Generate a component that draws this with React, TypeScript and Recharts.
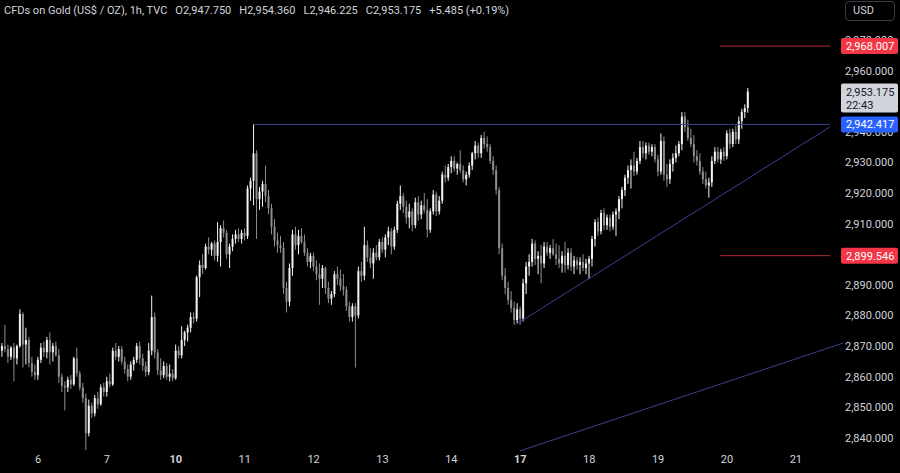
import React from 'react';
import { ComposedChart, Bar, XAxis, YAxis, ReferenceLine } from 'recharts';

// hourly candles, [open, high, low, close], one array per trading day
const mar05 = [
  [2868.5, 2871, 2866.5, 2870], [2870, 2877, 2868, 2869], [2869, 2870.5, 2864.5, 2866.5],
  [2866.5, 2870, 2865.5, 2869.5], [2869.5, 2871, 2858.5, 2866], [2866, 2870.5, 2864, 2870],
  [2870, 2882, 2869.5, 2880.5], [2880.5, 2881, 2863, 2870.5], [2870.5, 2876, 2864, 2872],
  [2872, 2873, 2863, 2864.5], [2864.5, 2866.5, 2860, 2861.5], [2861.5, 2864, 2859, 2860.5],
];
const mar06 = [
  [2860.5, 2866.5, 2859, 2865.5], [2865.5, 2871, 2864.5, 2869.5], [2869.5, 2871.5, 2866.5, 2868],
  [2868, 2873, 2866, 2872], [2872, 2874.5, 2864, 2868], [2868, 2871, 2865, 2870],
  [2870, 2871.5, 2866.5, 2867], [2867, 2869, 2858, 2860], [2860, 2861, 2855, 2857],
  [2857, 2858.5, 2849, 2856.5], [2856.5, 2860, 2855, 2859], [2859, 2860.5, 2856, 2857.5],
  [2857.5, 2866.5, 2857, 2866], [2866, 2869.5, 2860, 2861], [2861, 2862, 2855.5, 2856.5],
  [2856.5, 2858, 2851.5, 2853], [2853, 2854.5, 2836, 2841.5], [2841.5, 2852.5, 2840.5, 2850.5],
  [2850.5, 2851.5, 2846.5, 2848], [2848, 2854, 2847, 2853], [2853, 2855, 2849.5, 2851],
  [2851, 2857.5, 2850.5, 2856.5], [2856.5, 2858, 2853.5, 2855],
];
const mar07 = [
  [2855, 2860, 2853.5, 2858.5], [2858.5, 2861, 2856.5, 2857.5], [2857.5, 2869.5, 2857, 2868.5],
  [2868.5, 2871, 2865.5, 2866.5], [2866.5, 2870, 2865, 2869], [2869, 2870, 2864, 2865],
  [2865, 2866.5, 2861, 2862.5], [2862.5, 2864, 2858.5, 2860], [2860, 2865, 2859, 2864],
  [2864, 2866.5, 2862, 2865.5], [2865.5, 2871, 2864.5, 2870], [2870, 2871.5, 2864, 2866],
  [2866, 2867.5, 2862, 2863.5], [2863.5, 2865, 2860, 2861.5], [2861.5, 2871, 2860.5, 2868.5],
  [2868.5, 2886.5, 2867, 2879.5], [2879.5, 2881, 2866, 2868], [2868, 2869, 2860.5, 2862],
  [2862, 2866, 2859, 2860.5], [2860.5, 2865, 2859.5, 2863.5], [2863.5, 2864.5, 2859, 2860],
  [2860, 2864, 2858.5, 2861], [2861, 2862.5, 2858.5, 2859.5],
];
const mar10 = [
  [2859.5, 2870.5, 2859, 2868.5], [2868.5, 2870, 2866, 2867], [2867, 2876.5, 2866, 2872],
  [2872, 2875, 2870, 2874.5], [2874.5, 2877, 2871.5, 2876], [2876, 2881, 2874.5, 2879.5],
  [2879.5, 2881, 2877.5, 2879], [2879, 2893, 2878, 2892.5], [2892.5, 2898, 2886, 2896.5],
  [2896.5, 2900, 2893.5, 2895.5], [2895.5, 2903.5, 2895, 2902.5], [2902.5, 2905.5, 2900, 2901.5],
  [2901.5, 2904, 2899.5, 2903.5], [2903.5, 2904.5, 2898, 2899.5], [2899.5, 2910.5, 2897.5, 2904],
  [2904, 2909.5, 2896, 2908.5], [2908.5, 2911, 2905.5, 2907], [2907, 2908, 2898.5, 2900],
  [2900, 2903.5, 2895.5, 2902.5], [2902.5, 2906.5, 2901, 2905], [2905, 2908, 2903.5, 2906.5],
  [2906.5, 2908.5, 2904, 2905], [2905, 2908, 2903.5, 2907],
];
const mar11 = [
  [2907, 2908.5, 2904.5, 2906], [2906, 2922.5, 2905, 2921.5], [2921.5, 2925, 2917.5, 2924],
  [2924, 2942.417, 2916, 2933], [2933, 2934, 2905, 2918], [2918, 2922, 2914.5, 2920.5],
  [2920.5, 2924, 2915.5, 2923], [2923, 2929, 2917, 2919], [2919, 2921, 2913, 2915],
  [2915, 2916.5, 2906.5, 2909], [2909, 2911.5, 2902.5, 2904.5], [2904.5, 2907, 2900.5, 2903],
  [2903, 2906, 2900.5, 2902], [2902, 2904, 2887, 2889], [2889, 2891, 2881, 2884.5],
  [2884.5, 2897, 2883, 2895.5], [2895.5, 2908, 2893, 2906.5], [2906.5, 2909, 2901.5, 2903],
  [2903, 2908, 2900, 2906], [2906, 2908.5, 2903.5, 2904], [2904, 2906.5, 2899.5, 2900.5],
  [2900.5, 2902, 2896, 2897.5], [2897.5, 2900.5, 2895.5, 2899.5],
];
const mar12 = [
  [2899.5, 2900.5, 2894.5, 2896], [2896, 2898, 2891.5, 2893.5], [2893.5, 2897, 2883.5, 2892],
  [2892, 2896.5, 2889, 2895.5], [2895.5, 2896, 2887, 2889], [2889, 2891, 2884, 2885.5],
  [2885.5, 2888, 2883.5, 2887], [2887, 2894.5, 2886, 2893.5], [2893.5, 2896, 2890, 2892],
  [2892, 2895, 2888, 2889.5], [2889.5, 2893.5, 2886.5, 2888.5], [2888.5, 2889.5, 2881.5, 2883],
  [2883, 2884.5, 2878, 2879.5], [2879.5, 2884, 2878, 2883], [2883, 2884, 2863, 2880],
  [2880, 2896, 2879, 2894.5], [2894.5, 2897.5, 2891, 2893], [2893, 2909, 2891.5, 2903],
  [2903, 2904.5, 2897.5, 2899], [2899, 2902, 2895.5, 2897], [2897, 2902, 2892, 2900.5],
  [2900.5, 2903, 2898, 2899], [2899, 2905, 2898, 2904],
];
const mar13 = [
  [2904, 2905.5, 2900.5, 2901.5], [2901.5, 2906.5, 2899, 2905.5], [2905.5, 2909, 2903, 2907.5],
  [2907.5, 2908.5, 2900, 2902.5], [2902.5, 2909, 2901.5, 2908], [2908, 2917.5, 2907, 2916.5],
  [2916.5, 2922.5, 2914.5, 2919], [2919, 2920, 2913.5, 2915.5], [2915.5, 2917.5, 2910, 2912],
  [2912, 2916.5, 2908.5, 2914], [2914, 2915, 2907.5, 2909.5], [2909.5, 2918.5, 2908.5, 2917],
  [2917, 2919, 2911, 2913], [2913, 2917.5, 2911.5, 2916], [2916, 2920, 2913.5, 2914.5],
  [2914.5, 2918, 2905.5, 2908], [2908, 2915, 2907, 2914], [2914, 2921, 2913, 2919.5],
  [2919.5, 2920.5, 2912.5, 2914], [2914, 2919, 2913, 2917.5], [2917.5, 2927, 2916.5, 2926],
  [2926, 2929, 2923.5, 2925], [2925, 2929.5, 2924, 2928.5],
];
const mar14 = [
  [2928.5, 2932, 2926.5, 2930.5], [2930.5, 2932, 2927, 2928], [2928, 2930, 2926, 2929.5],
  [2929.5, 2934, 2926.5, 2927.5], [2927.5, 2929, 2923.5, 2924.5], [2924.5, 2927, 2922.5, 2926],
  [2926, 2930, 2925, 2929], [2929, 2933.5, 2927.5, 2933], [2933, 2937, 2931, 2935.5],
  [2935.5, 2936.5, 2931.5, 2933], [2933, 2939, 2931.5, 2938], [2938, 2940, 2934.5, 2936],
  [2936, 2938.5, 2933.5, 2935], [2935, 2936, 2929.5, 2930.5], [2930.5, 2932, 2926, 2927.5],
  [2927.5, 2929, 2919.5, 2921], [2921, 2922, 2900, 2902], [2902, 2903.5, 2891.5, 2893],
  [2893, 2895.5, 2887, 2889], [2889, 2891, 2883.5, 2885], [2885, 2888, 2881, 2882.5],
  [2882.5, 2884.5, 2877, 2878.5], [2878.5, 2884, 2877.5, 2882],
];
const mar17 = [
  [2882, 2883, 2877, 2879], [2879, 2892, 2878, 2890.5], [2890.5, 2897.5, 2887, 2896],
  [2896, 2900, 2893, 2897.5], [2897.5, 2905, 2896, 2903.5], [2903.5, 2904.5, 2896.5, 2898.5],
  [2898.5, 2901, 2893.5, 2899.5], [2899.5, 2903, 2890.5, 2897], [2897, 2904, 2895.5, 2902.5],
  [2902.5, 2904, 2899.5, 2900.5], [2900.5, 2903, 2898.5, 2902], [2902, 2905, 2899.5, 2900],
  [2900, 2903.5, 2896.5, 2898.5], [2898.5, 2903, 2895.5, 2897], [2897, 2901, 2894, 2899.5],
  [2899.5, 2904, 2894, 2896.5], [2896.5, 2902, 2895, 2900.5], [2900.5, 2902, 2894.5, 2896],
  [2896, 2899.5, 2893.5, 2898], [2898, 2899, 2895, 2896.5], [2896.5, 2899, 2893.5, 2897.5],
  [2897.5, 2900, 2894.5, 2895.5], [2895.5, 2898.5, 2893.5, 2897],
];
const mar18 = [
  [2897, 2899.5, 2892, 2898.5], [2898.5, 2906, 2896, 2905], [2905, 2911.5, 2902.5, 2910.5],
  [2910.5, 2912, 2906, 2907.5], [2907.5, 2914.5, 2906.5, 2913.5], [2913.5, 2915, 2908, 2909.5],
  [2909.5, 2913, 2908, 2912], [2912, 2913, 2907.5, 2909], [2909, 2914, 2908, 2913],
  [2913, 2915, 2906, 2914], [2914, 2919, 2911.5, 2918], [2918, 2922, 2915, 2921],
  [2921, 2926, 2919, 2925], [2925, 2929, 2923, 2927.5], [2927.5, 2931, 2921.5, 2929],
  [2929, 2933.5, 2925.5, 2927], [2927, 2931.5, 2926, 2930.5], [2930.5, 2937, 2929.5, 2935],
  [2935, 2937, 2931.5, 2933], [2933, 2936.5, 2931, 2935.5], [2935.5, 2936.5, 2932.5, 2933.5],
  [2933.5, 2936, 2932, 2935], [2935, 2936, 2930, 2931],
];
const mar19 = [
  [2931, 2932.5, 2925.5, 2927], [2927, 2939.5, 2926, 2937], [2937, 2938.5, 2924, 2926],
  [2926, 2929.5, 2922, 2924.5], [2924.5, 2931, 2923, 2929.5], [2929.5, 2933, 2927, 2931.5],
  [2931.5, 2935.5, 2930, 2933], [2933, 2937, 2932, 2936], [2936, 2946.5, 2934, 2945],
  [2945, 2946.5, 2940, 2941.5], [2941.5, 2944, 2937, 2938], [2938, 2941, 2935, 2936],
  [2936, 2939, 2930, 2932], [2932, 2934, 2929, 2930.5], [2930.5, 2933, 2926, 2927],
  [2927, 2928.5, 2923, 2924.5], [2924.5, 2927, 2921.5, 2922.5], [2922.5, 2925, 2918.5, 2923.5],
  [2923.5, 2932, 2922, 2930.5], [2930.5, 2935, 2929.5, 2933.5], [2933.5, 2935, 2930, 2931],
  [2931, 2934.5, 2929.5, 2933.5], [2933.5, 2935, 2930.5, 2932],
];
const mar20 = [
  [2932, 2940.5, 2931, 2939.5], [2939.5, 2941, 2934.5, 2936], [2936, 2941, 2935, 2940],
  [2940, 2942, 2936, 2937.5], [2937.5, 2945, 2936, 2943.5], [2943.5, 2947.5, 2941, 2946.5],
  [2946.5, 2949, 2944.5, 2947.75], [2947.75, 2954.36, 2946.225, 2953.175],
];

const dayLabels = ['6', '7', '10', '11', '12', '13', '14', '17', '18', '19', '20', '21'];
const dayStarts = [12, 35, 58, 81, 104, 127, 150, 173, 196, 219, 242, 265];
const weekStarts = ['10', '17'];
// 2,900 and 2,950 sit fully under the price badges, so they are not drawn
const priceTicks = [2840, 2850, 2860, 2870, 2880, 2890, 2910, 2920, 2930, 2940, 2960, 2970];

const resistance = 2942.417;
const upperTarget = 2968.007;
const lowerTarget = 2899.546;
const lastPrice = 2953.175;
const countdown = '22:43';
const changeText = '+5.485 (+0.19%)';
const resistanceStart = 84;
const targetStart = 239.7;
const risingLine = [{ x: 171.3, y: 2876.9 }, { x: 276.4, y: 2941.6 }];
const lowerLine = [{ x: 172.9, y: 2835.75 }, { x: 280.8, y: 2871.0 }];

const X_MIN = -0.69;
const X_MAX = 276.4;
const Y_MIN = 2835.4;
const Y_MAX = 2983.07;
const W = 900;
const H = 473;
const AXIS_H = 21;
const PLOT_H = H - AXIS_H;

const candles = [
  ...mar05, ...mar06, ...mar07, ...mar10, ...mar11, ...mar12, ...mar13,
  ...mar14, ...mar17, ...mar18, ...mar19, ...mar20,
].map(([o, h, l, c], i) => ({ i, o, h, l, c, range: [l, h] }));

const last = candles[candles.length - 1];

const fmt = (v: number) =>
  v.toLocaleString('en-US', { minimumFractionDigits: 3, maximumFractionDigits: 3 });

// same linear mapping as the price axis (domain -> plot height)
const yOf = (p: number) => ((Y_MAX - p) / (Y_MAX - Y_MIN)) * PLOT_H;

const badges = [
  { price: upperTarget, bg: '#f23645', fg: '#ffffff' },
  { price: lastPrice, bg: '#d1d4dc', fg: '#131722', sub: countdown },
  { price: resistance, bg: '#2962ff', fg: '#ffffff' },
  { price: lowerTarget, bg: '#f23645', fg: '#ffffff' },
];

const Candle = (props: any) => {
  const { x, y, width, height, payload } = props;
  if (x == null || y == null) return null;
  const { o, h, l, c } = payload;
  const top = Math.min(y, y + height);
  const bot = Math.max(y, y + height);
  const span = h - l || 1;
  const py = (p: number) => top + ((h - p) / span) * (bot - top);
  const cx = x + width / 2;
  const color = c >= o ? '#f2f2f2' : '#8e8e8e';
  const bTop = py(Math.max(o, c));
  const bBot = py(Math.min(o, c));
  return (
    <g>
      <rect x={cx - 0.5} y={top} width={1} height={Math.max(1, bot - top)} fill={color} />
      <rect x={cx - 1} y={bTop} width={2} height={Math.max(1, bBot - bTop)} fill={color} />
    </g>
  );
};

const DayTick = (props: any) => {
  const { x, y, payload } = props;
  const label = dayLabels[dayStarts.indexOf(payload.value)];
  return (
    <text
      x={x}
      y={y}
      dy={9}
      textAnchor="middle"
      fontSize={11}
      fill="#d1d4dc"
      fontWeight={weekStarts.includes(label) ? 'bold' : 'normal'}
    >
      {label}
    </text>
  );
};

export default function App() {
  return (
    <div
      style={{
        position: 'fixed',
        left: 0,
        top: 0,
        width: W,
        height: H,
        background: '#000000',
        fontFamily: 'Roboto, sans-serif',
        overflow: 'hidden',
      }}
    >
      <ComposedChart
        width={W}
        height={H}
        data={candles}
        margin={{ top: 0, right: 0, bottom: 0, left: 0 }}
      >
        <XAxis
          dataKey="i"
          type="number"
          domain={[X_MIN, X_MAX]}
          allowDataOverflow
          ticks={dayStarts}
          interval={0}
          tick={<DayTick />}
          axisLine={false}
          tickLine={false}
          tickSize={0}
          tickMargin={2}
          height={AXIS_H}
        />
        <YAxis
          orientation="right"
          type="number"
          domain={[Y_MIN, Y_MAX]}
          allowDataOverflow
          ticks={priceTicks}
          interval={0}
          tickFormatter={fmt}
          tick={{ fill: '#d1d4dc', fontSize: 11 }}
          axisLine={false}
          tickLine={false}
          tickSize={0}
          tickMargin={15}
          width={70}
        />
        <Bar dataKey="range" barSize={3} isAnimationActive={false} shape={(p: any) => <Candle {...p} />} />
        <ReferenceLine
          segment={[{ x: resistanceStart, y: resistance }, { x: X_MAX, y: resistance }]}
          stroke="#3a3f8f"
          strokeWidth={1}
        />
        <ReferenceLine segment={risingLine} stroke="#3a3f8f" strokeWidth={1} />
        <ReferenceLine segment={lowerLine} stroke="#3a3f8f" strokeWidth={1} ifOverflow="visible" />
        <ReferenceLine
          segment={[{ x: targetStart, y: upperTarget }, { x: X_MAX, y: upperTarget }]}
          stroke="#b02a35"
          strokeWidth={1}
        />
        <ReferenceLine
          segment={[{ x: targetStart, y: lowerTarget }, { x: X_MAX, y: lowerTarget }]}
          stroke="#b02a35"
          strokeWidth={1}
        />
      </ComposedChart>

      {/* price-scale badges, on top of the axis labels */}
      <svg
        width={W}
        height={H}
        style={{ position: 'absolute', left: 0, top: 0, pointerEvents: 'none' }}
      >
        {badges.map((b) => {
          const yy = yOf(b.price);
          return (
            <g key={b.price}>
              <rect x={841} y={yy - 8} width={57} height={b.sub ? 29 : 16} rx={2} fill={b.bg} />
              <text x={846} y={yy + 4} fontSize={11} fill={b.fg}>
                {fmt(b.price)}
              </text>
              {b.sub && (
                <text x={846} y={yy + 17} fontSize={11} fill={b.fg}>
                  {b.sub}
                </text>
              )}
            </g>
          );
        })}
      </svg>

      <div
        style={{
          position: 'absolute',
          left: 4,
          top: 4,
          fontSize: 11,
          color: '#d1d4dc',
          whiteSpace: 'nowrap',
          display: 'flex',
          gap: 8,
        }}
      >
        <span>CFDs on Gold (US$ / OZ), 1h, TVC</span>
        <span>O{fmt(last.o)}</span>
        <span>H{fmt(last.h)}</span>
        <span>L{fmt(last.l)}</span>
        <span>C{fmt(last.c)}</span>
        <span>{changeText}</span>
      </div>

      <div
        style={{
          position: 'absolute',
          left: 845,
          top: 1,
          width: 50,
          height: 20,
          boxSizing: 'border-box',
          border: '1px solid #3a3d45',
          borderRadius: 4,
          fontSize: 11,
          color: '#d1d4dc',
          lineHeight: '18px',
          paddingLeft: 7,
        }}
      >
        USD
      </div>
    </div>
  );
}
